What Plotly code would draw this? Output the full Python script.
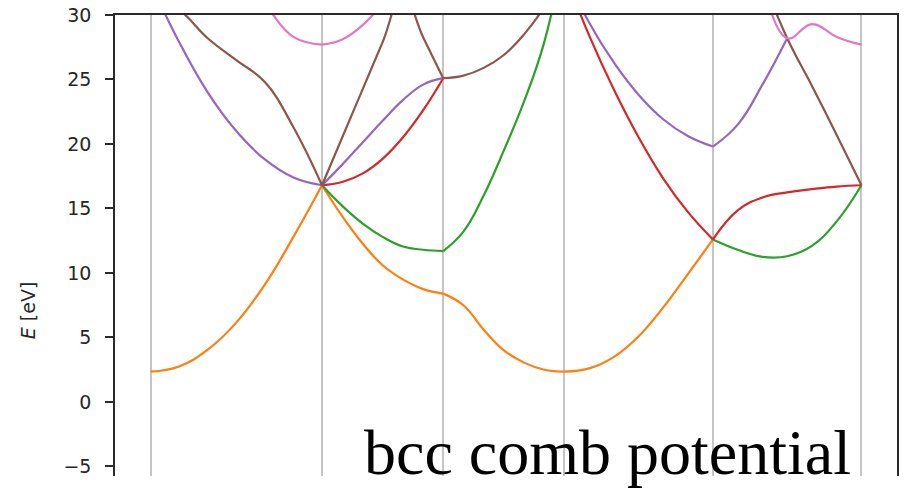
import plotly.graph_objects as go

# bcc path G-H-N-G-P-H, k distance in units of 2*pi/a
kpoint_labels = ["Γ", "H", "N", "Γ", "P", "H"]
kpath = [0.0, 1.0, 1.7071, 2.4142, 3.2802, 4.1463]
# energies sampled at these fractions of every segment
frac = [0, 1/6, 2/6, 3/6, 4/6, 5/6, 1]

ytick_vals = [-5, 0, 5, 10, 15, 20, 25, 30]
ytick_text = ["\u22125", "0", "5", "10", "15", "20", "25", "30"]

# one list per path segment (G-H, H-N, N-G, G-P, P-H), None = hidden / degenerate
band_orange = [
    [2.35, 2.75, 4.05, 6.15, 9.1, 12.8, 16.8],
    [16.8, 14.4, 12.3, 10.6, 9.5, 8.75, 8.4],
    [8.4, 7.5, 5.6, 4.0, 3.05, 2.5, 2.35],
    [2.35, 2.6, 3.5, 5.1, 7.35, 9.95, 12.6],
    None,
]
band_green = [
    None,
    [16.8, 15.2, 13.85, 12.8, 12.05, 11.8, 11.7],
    [11.7, 13.2, 16.0, 19.5, 23.3, 27.9, 35.0],
    None,
    [12.6, 11.8, 11.25, 11.3, 12.1, 14.0, 16.8],
]
band_red = [
    None,
    [16.8, 17.05, 17.7, 18.85, 20.5, 22.6, 25.1],
    None,
    [33.2, 28.4, 24.2, 20.5, 17.3, 14.7, 12.6],
    [12.6, 14.85, 15.85, 16.25, 16.5, 16.7, 16.8],
]
band_purple = [
    [32.5, 27.9, 24.0, 21.0, 18.8, 17.4, 16.8],
    [16.8, 18.4, 20.1, 21.8, 23.4, 24.6, 25.1],
    None,
    [33.3, 29.4, 26.3, 23.8, 21.9, 20.6, 19.8],
    [19.8, 21.5, 24.6, 28.2, None, None, None],
]
band_brown = [
    [31.5, 30.4, 28.2, 26.5, 24.8, 21.3, 16.8],
    [16.8, 20.5, 24.2, 27.9, 31.6, 28.3, 25.1],
    [25.1, 25.3, 25.9, 26.9, 28.5, 30.6, 33.2],
    None,
    [None, None, 32.8, 28.2, 24.5, 20.7, 16.8],
]
band_pink = [
    [None, None, None, 33.0, 30.8, 28.3, 27.7],
    [27.7, 28.1, 29.2, 30.9, None, None, None],
    None,
    None,
    [None, None, 32.8, 28.2, 29.3, 28.3, 27.7],
]

bands = [
    (band_orange, "#ff7f0e"),
    (band_green, "#2ca02c"),
    (band_red, "#d62728"),
    (band_purple, "#9467bd"),
    (band_brown, "#8c564b"),
    (band_pink, "#e377c2"),
]


def path_xy(segments):
    xs, ys = [], []
    for i, seg in enumerate(segments):
        if seg is None:
            continue
        k0, k1 = kpath[i], kpath[i + 1]
        for f, e in zip(frac, seg):
            xs.append(k0 + f * (k1 - k0))
            ys.append(e)
        xs.append(None)
        ys.append(None)
    return xs, ys


fig = go.Figure()
for segs, color in bands:
    x, y = path_xy(segs)
    fig.add_trace(go.Scatter(
        x=x, y=y, mode="lines",
        line=dict(color=color, width=2.2, shape="spline", smoothing=1.2),
        connectgaps=False, showlegend=False, hoverinfo="skip",
    ))

span = kpath[-1] - kpath[0]
fig.update_layout(
    width=907, height=488,
    margin=dict(l=115, r=10, t=15, b=12, autoexpand=False),
    paper_bgcolor="white", plot_bgcolor="white",
    font=dict(family="DejaVu Sans", color="#262626"),
    xaxis=dict(
        range=[kpath[0] - 0.05 * span, kpath[-1] + 0.05 * span],
        tickvals=kpath, ticktext=kpoint_labels, showticklabels=False, ticks="",
        side="top", showline=True, linecolor="#2b2b2b", linewidth=1.5,
        showgrid=True, gridcolor="#c4c4c4", gridwidth=1.5, zeroline=False,
        automargin=False,
    ),
    yaxis=dict(
        range=[-5.74, 30], tickvals=ytick_vals, ticktext=ytick_text,
        ticks="outside", ticklen=8, tickwidth=1.5, tickcolor="#2b2b2b",
        ticklabelstandoff=10, ticklabeloverflow="allow",
        tickfont=dict(size=19, family="DejaVu Sans", color="#262626"),
        showline=True, mirror=True, linecolor="#2b2b2b", linewidth=1.5,
        showgrid=False, zeroline=False, automargin=False,
    ),
    annotations=[
        dict(text="<i>E</i> [eV]", textangle=-90, xref="paper", yref="paper",
             x=-0.111, y=0.36, xanchor="center", yanchor="middle", showarrow=False,
             font=dict(size=19, family="DejaVu Sans", color="#262626")),
        dict(text="bcc comb potential", xref="paper", yref="paper",
             x=0.9437, y=0.0505, xanchor="right", yanchor="middle", showarrow=False,
             font=dict(size=64, family="Liberation Serif", color="black")),
    ],
)

# drop the default 8px page margin so the figure fills the window
fig.write_html("out.html", config={"displayModeBar": False},
               post_script="document.body.style.margin='0';")
